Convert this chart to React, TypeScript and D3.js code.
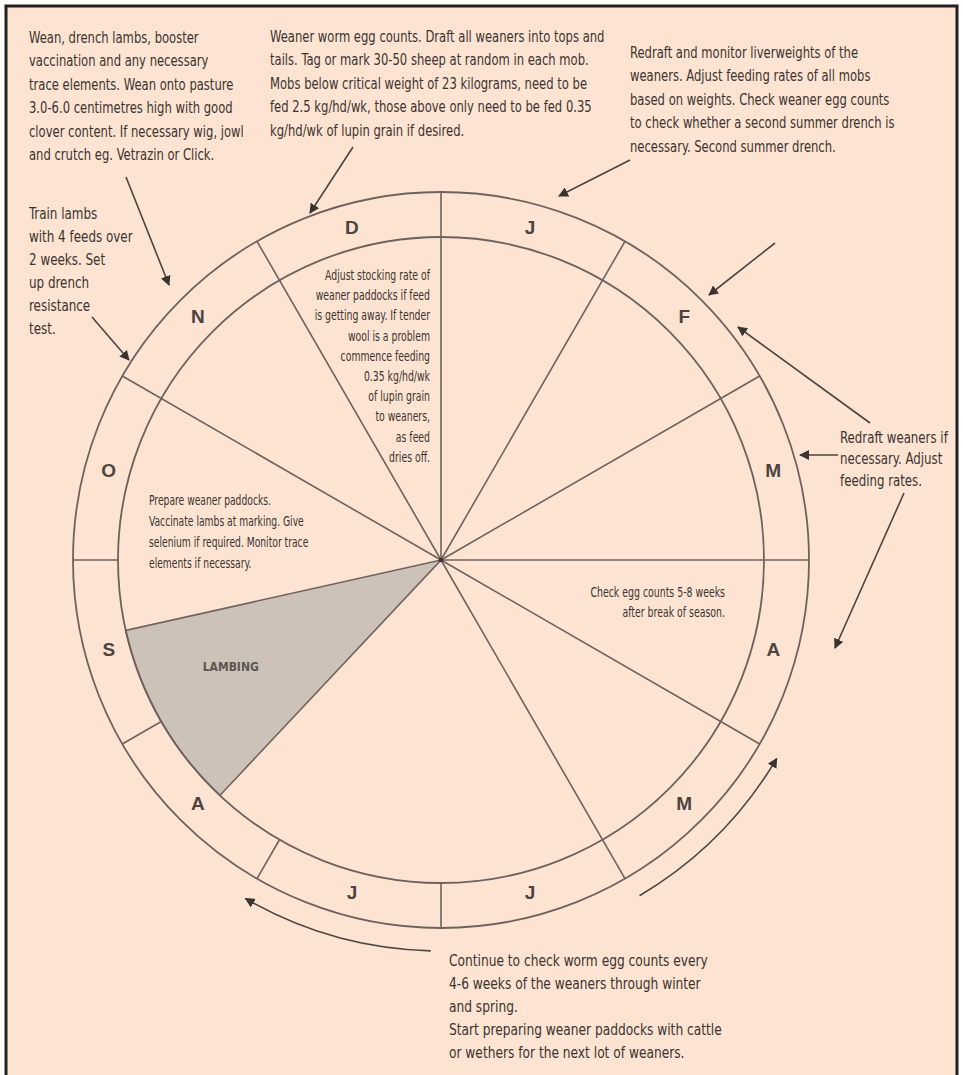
import React, { useEffect, useRef } from 'react'
import * as d3 from 'd3'

// month ring, clockwise from the top
const months = ['J', 'F', 'M', 'A', 'M', 'J', 'J', 'A', 'S', 'O', 'N', 'D']
// month boundaries (index = start of that month) drawn right to the centre
const fullSpokes = [0, 1, 2, 3, 4, 5, 10, 11]
// boundaries drawn only across the ring
const ringTicks = [6, 7, 8, 9]
// lambing period, in months from 1 Jan
const lambing = [7.44, 8.58]
const lambingLabel = 'LAMBING'

const noteWean = [
  'Wean, drench lambs, booster',
  'vaccination and any necessary',
  'trace elements. Wean onto pasture',
  '3.0-6.0 centimetres high with good',
  'clover content. If necessary wig, jowl',
  'and crutch eg. Vetrazin or Click.',
]
const noteEggCounts = [
  'Weaner worm egg counts. Draft all weaners into tops and',
  'tails. Tag or mark 30-50 sheep at random in each mob.',
  'Mobs below critical weight of 23 kilograms, need to be',
  'fed 2.5 kg/hd/wk, those above only need to be fed 0.35',
  'kg/hd/wk of lupin grain if desired.',
]
const noteRedraft = [
  'Redraft and monitor liverweights of the',
  'weaners. Adjust feeding rates of all mobs',
  'based on weights. Check weaner egg counts',
  'to check whether a second summer drench is',
  'necessary. Second summer drench.',
]
const noteTrain = ['Train lambs', 'with 4 feeds over', '2 weeks. Set', 'up drench', 'resistance', 'test.']
const noteRedraft2 = ['Redraft weaners if', 'necessary. Adjust', 'feeding rates.']
const noteStocking = [
  'Adjust stocking rate of',
  'weaner paddocks if feed',
  'is getting away. If tender',
  'wool is a problem',
  'commence feeding',
  '0.35 kg/hd/wk',
  'of lupin grain',
  'to weaners,',
  'as feed',
  'dries off.',
]
const notePrepare = [
  'Prepare weaner paddocks.',
  'Vaccinate lambs at marking. Give',
  'selenium if required. Monitor trace',
  'elements if necessary.',
]
const noteBreak = ['Check egg counts 5-8 weeks', 'after break of season.']
const noteContinue = [
  'Continue to check worm egg counts every',
  '4-6 weeks of the weaners through winter',
  'and spring.',
  'Start preparing weaner paddocks with cattle',
  'or wethers for the next lot of weaners.',
]

const W = 963
const H = 1075
const BG = '#fde3d1'
const LINE = '#6f625d'
const INK = '#3b3330'
const FONT = '"DejaVu Sans Condensed", "Liberation Sans Narrow", sans-serif'

function App() {
  const ref = useRef<SVGSVGElement>(null)

  useEffect(() => {
    const svg = d3.select(ref.current)
    svg.selectAll('*').remove()

    const cx = 441
    const cy = 560
    const R = 368
    const r = 323

    const angle = d3.scaleLinear().domain([0, 12]).range([0, 2 * Math.PI])
    const px = (m: number, rad: number) => cx + rad * Math.sin(angle(m))
    const py = (m: number, rad: number) => cy - rad * Math.cos(angle(m))

    // background + frame
    svg.append('rect').attr('width', W).attr('height', H).attr('fill', '#fff')
    svg.append('rect').attr('x', 7).attr('y', 7).attr('width', 949).attr('height', H).attr('fill', BG)
    svg.append('path')
      .attr('d', `M6,${H} V6 H957 V${H}`)
      .attr('fill', 'none')
      .attr('stroke', '#231f1e')
      .attr('stroke-width', 3)

    const defs = svg.append('defs')
    defs.append('marker')
      .attr('id', 'head')
      .attr('viewBox', '0 0 10 10')
      .attr('refX', 9)
      .attr('refY', 5)
      .attr('markerWidth', 10)
      .attr('markerHeight', 10)
      .attr('markerUnits', 'userSpaceOnUse')
      .attr('orient', 'auto')
      .append('path')
      .attr('d', 'M0,0 L10,5 L0,10 Z')
      .attr('fill', '#3b3330')

    const g = svg.append('g')

    // lambing wedge
    const wedge = d3.arc()
      .innerRadius(0)
      .outerRadius(r)
      .startAngle(angle(lambing[0]))
      .endAngle(angle(lambing[1]))
    g.append('path')
      .attr('transform', `translate(${cx},${cy})`)
      .attr('d', wedge({} as any) as string)
      .attr('fill', '#cdc2b8')
      .attr('stroke', LINE)
      .attr('stroke-width', 1.6)

    const textMid = (lambing[0] + lambing[1]) / 2 + 0.09
    g.append('text')
      .attr('x', px(textMid, 236))
      .attr('y', py(textMid, 236))
      .attr('font-family', FONT)
      .attr('font-weight', 'bold')
      .attr('font-size', 12)
      .attr('text-anchor', 'middle')
      .attr('dominant-baseline', 'middle')
      .attr('fill', '#4a423e')
      .attr('opacity', 0.85)
      .text(lambingLabel)

    // rings
    ;[R, r].forEach(rad => {
      g.append('circle')
        .attr('cx', cx).attr('cy', cy).attr('r', rad)
        .attr('fill', 'none')
        .attr('stroke', LINE)
        .attr('stroke-width', 1.8)
    })

    // spokes
    g.selectAll('line.spoke')
      .data(fullSpokes)
      .enter()
      .append('line')
      .attr('class', 'spoke')
      .attr('x1', cx).attr('y1', cy)
      .attr('x2', d => px(d, R)).attr('y2', d => py(d, R))
      .attr('stroke', LINE)
      .attr('stroke-width', 1.6)

    g.selectAll('line.tick')
      .data(ringTicks)
      .enter()
      .append('line')
      .attr('class', 'tick')
      .attr('x1', d => px(d, r)).attr('y1', d => py(d, r))
      .attr('x2', d => px(d, R)).attr('y2', d => py(d, R))
      .attr('stroke', LINE)
      .attr('stroke-width', 1.6)

    g.append('circle').attr('cx', cx).attr('cy', cy).attr('r', 2.2).attr('fill', '#3b3330')

    // month letters
    g.selectAll('text.month')
      .data(months)
      .enter()
      .append('text')
      .attr('class', 'month')
      .attr('x', (d, i) => px(i + 0.5, 344))
      .attr('y', (d, i) => py(i + 0.5, 344))
      .attr('text-anchor', 'middle')
      .attr('dominant-baseline', 'central')
      .attr('font-family', '"Liberation Sans", Arial, sans-serif')
      .attr('font-weight', 'bold')
      .attr('font-size', 19)
      .attr('fill', '#4d4441')
      .text(d => d)

    // notes
    const note = (lines: string[], x: number, y: number, opts: { size: number, lh: number, sx: number, anchor?: string }) => {
      const t = g.append('text')
        .attr('transform', `translate(${x},${y}) scale(${opts.sx},1)`)
        .attr('font-family', FONT)
        .attr('font-size', opts.size)
        .attr('fill', INK)
        .attr('text-anchor', opts.anchor || 'start')
      lines.forEach((l, i) => {
        t.append('tspan').attr('x', 0).attr('y', i * opts.lh).text(l)
      })
    }
    const big = { size: 16, lh: 23.4, sx: 0.805 }
    note(noteWean, 29, 43, big)
    note(noteEggCounts, 270, 42, big)
    note(noteRedraft, 630, 58, big)
    note(noteTrain, 29, 219, { size: 16, lh: 23, sx: 0.83 })
    note(noteRedraft2, 840, 443, { size: 16, lh: 21.5, sx: 0.82 })
    note(noteContinue, 449, 966, { size: 16, lh: 23, sx: 0.85 })
    note(noteStocking, 430, 280, { size: 14, lh: 20.2, sx: 0.74, anchor: 'end' })
    note(notePrepare, 149, 505, { size: 14, lh: 21, sx: 0.73 })
    note(noteBreak, 725, 597, { size: 14, lh: 20, sx: 0.745, anchor: 'end' })

    // straight arrows
    const arrows = [
      [126, 177, 169, 285],
      [353, 147, 310, 213],
      [630, 160, 559, 196],
      [775, 243, 709, 295],
      [92, 317, 129, 360],
      [870, 423, 738, 327],
      [838, 455, 800, 455],
      [904, 493, 835, 648],
    ]
    g.selectAll('line.arrow')
      .data(arrows)
      .enter()
      .append('line')
      .attr('class', 'arrow')
      .attr('x1', d => d[0]).attr('y1', d => d[1])
      .attr('x2', d => d[2]).attr('y2', d => d[3])
      .attr('stroke', '#4d4441')
      .attr('stroke-width', 1.6)
      .attr('marker-end', 'url(#head)')

    // curved arrows following the ring (in months)
    const curved = [
      [4.98, 4.02, 390],
      [6.05, 7.0, 391],
    ]
    curved.forEach(([m0, m1, rad]) => {
      const p = d3.path()
      p.arc(cx, cy, rad, angle(m0) - Math.PI / 2, angle(m1) - Math.PI / 2, m1 < m0)
      g.append('path')
        .attr('d', p.toString())
        .attr('fill', 'none')
        .attr('stroke', '#4d4441')
        .attr('stroke-width', 1.6)
        .attr('marker-end', 'url(#head)')
    })
  }, [])

  return (
    <svg ref={ref} width={W} height={H}
      style={{ position: 'absolute', left: 0, top: 0, display: 'block' }} />
  )
}

export default App
